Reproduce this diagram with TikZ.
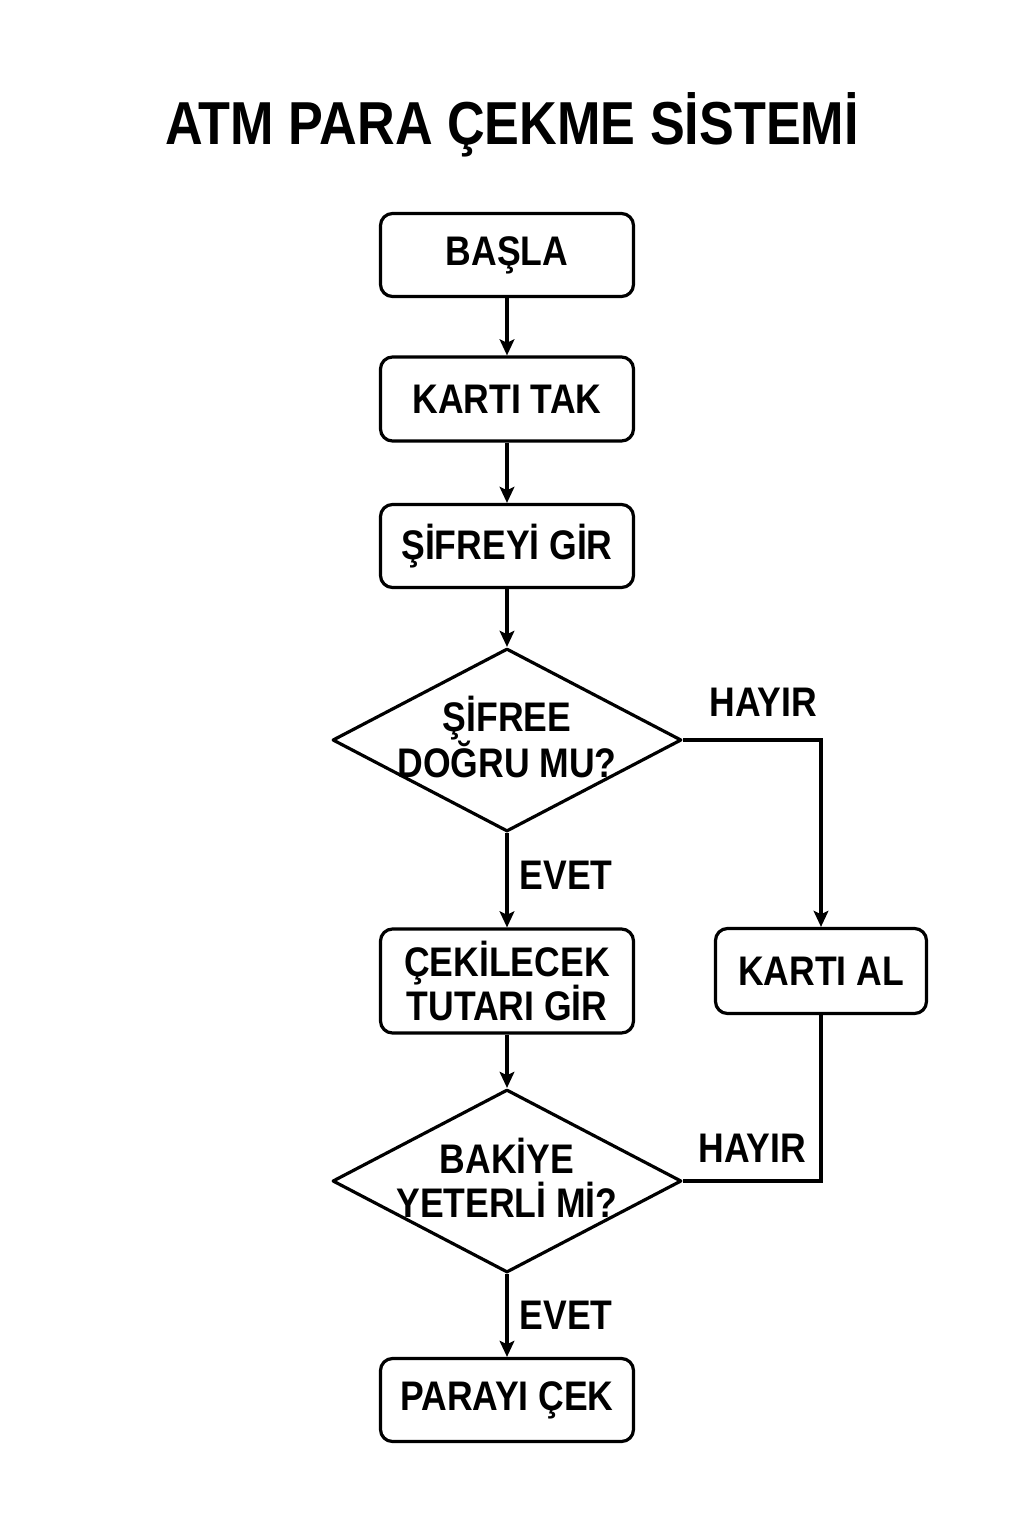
\documentclass[tikz,border=0pt]{standalone}
\usepackage{fontspec}
\setmainfont{Liberation Sans}[FakeStretch=0.86]
\usetikzlibrary{shapes.geometric,arrows.meta}
\begin{document}
\begin{tikzpicture}[x=0.75pt,y=-0.75pt,
  every node/.style={font=\bfseries\fontsize{31}{33}\selectfont},
  box/.style={draw, line width=2.4pt, rounded corners=9pt, minimum width=189.75pt, minimum height=62.25pt, align=center, inner sep=0pt},
  dia/.style={draw, diamond, line width=2.4pt, line join=round, minimum width=261.75pt, minimum height=137.25pt, inner sep=0pt},
  lbl/.style={align=center, inner sep=0pt},
  con/.style={line width=2.4pt},
  arr/.style={con, -{Stealth[length=12pt,width=11pt,inset=2.5pt]}}]
\useasboundingbox (0,0) rectangle (1024,1536);
\node[lbl, font=\bfseries\fontsize{45.5}{50}\selectfont] (title) at (512,125) {ATM PARA ÇEKME SİSTEMİ};
\node[box] (start) at (507,255) {BAŞLA};
\node[box, minimum height=63pt] (kart) at (507,399) {KARTI TAK};
\node[box] (sifre) at (507,546) {ŞİFREYİ GİR};
\node[dia] (d1) at (507,740) {};
\node[lbl] (d1t) at (507,737) {ŞİFREE\\DOĞRU MU?};
\node[box, minimum height=78pt] (tutar) at (507,981) {ÇEKİLECEK\\TUTARI GİR};
\node[box, minimum width=158.25pt, minimum height=63.75pt] (kal) at (821,971) {KARTI AL};
\node[dia] (d2) at (507,1181) {};
\node[lbl] (d2t) at (507,1178) {BAKİYE\\YETERLİ Mİ?};
\node[box] (para) at (507,1400) {PARAYI ÇEK};
\node[lbl] (h1) at (763,702) {HAYIR};
\node[lbl] (h2) at (752,1148) {HAYIR};
\node[lbl] (e1) at (566,875) {EVET};
\node[lbl] (e2) at (566,1315) {EVET};
\draw[arr] (start) -- (kart);
\draw[arr] (kart) -- (sifre);
\draw[arr] (sifre) -- (d1.north);
\draw[arr] (d1.south) -- (tutar);
\draw[arr] (d1.east) -| (kal.north);
\draw[arr] (tutar) -- (d2.north);
\draw[con] (kal.south) |- (d2.east);
\draw[arr] (d2.south) -- (para);
\end{tikzpicture}
\end{document}
